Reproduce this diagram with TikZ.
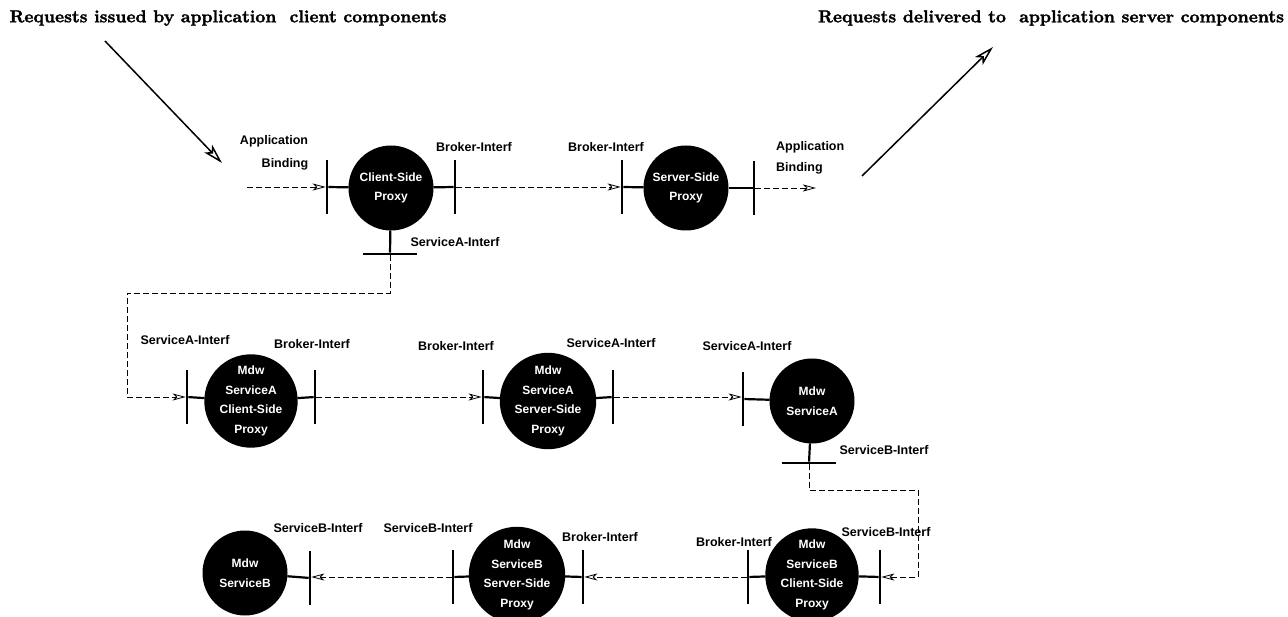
\documentclass[tikz,border=0pt]{standalone}
\usepackage{fontspec}
\usepackage{graphicx}
\setsansfont{Liberation Sans}
\newfontfamily\titlefont{lmroman10-bold.otf}[FakeBold=1.6]
\usetikzlibrary{arrows.meta}
\begin{document}
\begin{tikzpicture}[x=1pt,y=-1pt,
  proc/.style={circle, fill=black, text=white, inner sep=0pt, outer sep=0pt,
    minimum size=85pt, align=center,
    font=\sffamily\bfseries\fontsize{12}{19.5}\selectfont},
  vbar/.style={fill=black, inner sep=0pt, outer sep=0pt, minimum width=2.6pt, minimum height=54pt},
  hbar/.style={fill=black, inner sep=0pt, outer sep=0pt, minimum width=54pt, minimum height=2.6pt},
  stub/.style={line width=2.2pt},
  lbl/.style={inner sep=0pt, font=\sffamily\bfseries\fontsize{12.5}{14}\selectfont},
  title/.style={inner sep=0pt, font=\titlefont\fontsize{14}{16}\selectfont},
  flow/.style={line width=0.8pt, dash pattern=on 5.5pt off 3.5pt,
    -{Stealth[open,length=13pt,width=7pt,inset=3.5pt,line width=0.8pt]}},
  req/.style={line width=1.5pt, -{Stealth[open,length=20pt,width=11pt,inset=5pt]}}
]
\useasboundingbox (0,0) rectangle (1288,617);

% titles and incoming/outgoing requests
\node[title] (t1) at (228,18) {\resizebox{437pt}{12pt}{Requests issued by application\ \ client components}};
\node[title] (t2) at (1051,18) {\resizebox{466pt}{12pt}{Requests delivered to\ \ application server components}};
\coordinate (r1a) at (105,41);
\coordinate (r1b) at (222,163);
\coordinate (r2a) at (862,176);
\coordinate (r2b) at (993,47);
\draw[req] (r1a) -- (r1b);
\draw[req] (r2a) -- (r2b);

% ---- first row: application proxies
\node[proc] (csp) at (391,188) {Client-Side\\Proxy};
\node[vbar] (cspL) at (327,187) {};
\node[vbar] (cspR) at (455,187) {};
\node[hbar] (cspB) at (390,254) {};
\node[proc] (ssp) at (686,188) {Server-Side\\Proxy};
\node[vbar] (sspL) at (622,187) {};
\node[vbar] (sspR) at (754,188) {};
\coordinate (appin) at (247,187);
\coordinate (appout) at (816,188);

\draw[stub] (csp) -- (cspL);
\draw[stub] (csp) -- (cspR);
\draw[stub] (csp) -- (cspB);
\draw[stub] (ssp) -- (sspL);
\draw[stub] (ssp) -- (sspR);

\draw[flow] (appin) -- (cspL);
\draw[flow] (cspR) -- (sspL);
\draw[flow] (sspR) -- (appout);

\node[lbl] (la1) at (274,141) {Application};
\node[lbl] (lb1) at (285,164) {Binding};
\node[lbl] (lbr1) at (474,147) {Broker-Interf};
\node[lbl] (lsa1) at (455,242) {ServiceA-Interf};
\node[lbl] (lbr2) at (606,147) {Broker-Interf};
\node[lbl, anchor=west] (la2) at (776,147) {Application};
\node[lbl, anchor=west] (lb2) at (776,168) {Binding};

% ---- second row: middleware service A
\node[proc] (acp) at (251,401) {Mdw\\ServiceA\\Client-Side\\Proxy};
\node[vbar] (acpL) at (187,397) {};
\node[vbar] (acpR) at (315,397) {};
\node[proc] (asp) at (548,401) {Mdw\\ServiceA\\Server-Side\\Proxy};
\node[vbar] (aspL) at (483,397) {};
\node[vbar] (aspR) at (613,397) {};
\node[proc] (sa) at (812,401) {Mdw\\ServiceA};
\node[vbar] (saL) at (743,399) {};
\node[hbar] (saB) at (809,463) {};

\draw[stub] (acp) -- (acpL);
\draw[stub] (acp) -- (acpR);
\draw[stub] (asp) -- (aspL);
\draw[stub] (asp) -- (aspR);
\draw[stub] (sa) -- (saL);
\draw[stub] (sa) -- (saB);

\coordinate (k1) at (127,293);
\draw[flow] (cspB) |- (k1) |- (acpL);
\draw[flow] (acpR) -- (aspL);
\draw[flow] (aspR) -- (aspR -| saL.west);

\node[lbl] (lsa2) at (185,340) {ServiceA-Interf};
\node[lbl] (lbr3) at (312,344) {Broker-Interf};
\node[lbl] (lbr4) at (456,346) {Broker-Interf};
\node[lbl] (lsa3) at (611,343) {ServiceA-Interf};
\node[lbl] (lsa4) at (747,346) {ServiceA-Interf};
\node[lbl] (lsb1) at (884,450) {ServiceB-Interf};

% ---- third row: middleware service B
\node[proc] (sb) at (245,573) {Mdw\\ServiceB};
\node[vbar] (sbR) at (310,578) {};
\node[proc] (bsp) at (517,575) {Mdw\\ServiceB\\Server-Side\\Proxy};
\node[vbar] (bspL) at (453,577) {};
\node[vbar] (bspR) at (583,577) {};
\node[proc] (bcp) at (812,575) {Mdw\\ServiceB\\Client-Side\\Proxy};
\node[vbar] (bcpL) at (748,577) {};
\node[vbar] (bcpR) at (880,577) {};

\draw[stub] (sb) -- (sbR);
\draw[stub] (bsp) -- (bspL);
\draw[stub] (bsp) -- (bspR);
\draw[stub] (bcp) -- (bcpL);
\draw[stub] (bcp) -- (bcpR);

\coordinate (k2) at (918,490);
\draw[flow] (saB) |- (k2) |- (bcpR);
\draw[flow] (bcpL) -- (bspR);
\draw[flow] (bspL) -- (bspL -| sbR.east);

\node[lbl] (lsb2) at (318,528) {ServiceB-Interf};
\node[lbl] (lsb3) at (428,528) {ServiceB-Interf};
\node[lbl] (lbr5) at (600,537) {Broker-Interf};
\node[lbl] (lbr6) at (734,542) {Broker-Interf};
\node[lbl] (lsb4) at (886,532) {ServiceB-Interf};
\end{tikzpicture}
\end{document}
